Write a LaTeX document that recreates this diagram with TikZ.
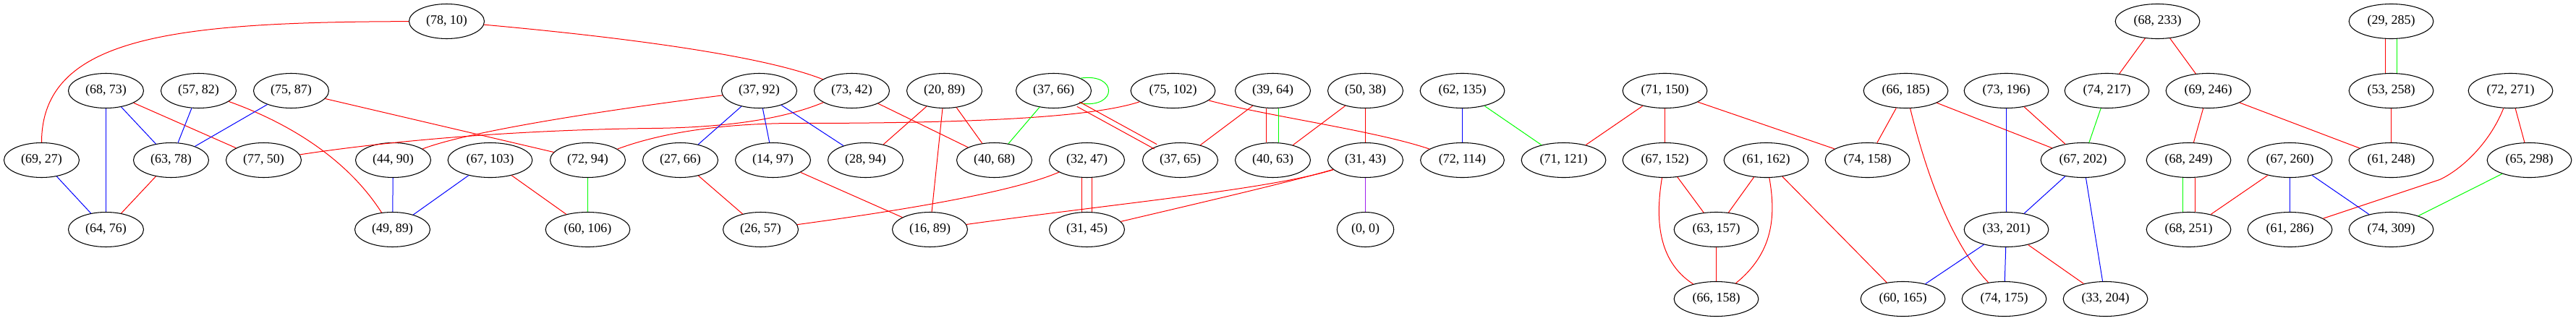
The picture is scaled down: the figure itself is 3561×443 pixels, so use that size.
\documentclass[tikz,border=0pt]{standalone}
\usepackage{fontspec}
\setmainfont{Liberation Serif}
\usetikzlibrary{shapes.geometric}
\definecolor{ered}{RGB}{255,0,0}
\definecolor{eblue}{RGB}{0,0,255}
\definecolor{egreen}{RGB}{0,255,0}
\definecolor{epurple}{RGB}{160,32,240}
\begin{document}
\begin{tikzpicture}[x=0.75pt,y=-0.75pt,
  nd/.style={ellipse,draw=black,line width=0.8pt,inner xsep=6.2pt,inner ysep=0pt,
     minimum height=36pt,minimum width=54pt,font=\fontsize{13.5}{16}\selectfont},
  re/.style={draw=ered,line width=0.75pt},
  bl/.style={draw=eblue,line width=0.75pt},
  gr/.style={draw=egreen,line width=0.75pt},
  pu/.style={draw=epurple,line width=0.75pt},
  sh/.style={transform canvas={xshift=#1}}]
\useasboundingbox[fill=white] (-0.5,-0.5) rectangle (3560.5,442.5);
% row 0
\node[nd] (n7810) at (617,29) {(78, 10)};
\node[nd] (n68233) at (2982,29) {(68, 233)};
\node[nd] (n29285) at (3305,29) {(29, 285)};
% row 1
\node[nd] (n6873) at (146,125) {(68, 73)};
\node[nd] (n5782) at (274,125) {(57, 82)};
\node[nd] (n7587) at (402,125) {(75, 87)};
\node[nd] (n3792) at (1049,125) {(37, 92)};
\node[nd] (n7342) at (1177,125) {(73, 42)};
\node[nd] (n2089) at (1305,125) {(20, 89)};
\node[nd] (n3766) at (1456,125) {(37, 66)};
\node[nd] (n75102) at (1621,125) {(75, 102)};
\node[nd] (n3964) at (1759,125) {(39, 64)};
\node[nd] (n5038) at (1887,125) {(50, 38)};
\node[nd] (n62135) at (2021,125) {(62, 135)};
\node[nd] (n71150) at (2301,125) {(71, 150)};
\node[nd] (n66185) at (2634,125) {(66, 185)};
\node[nd] (n73196) at (2773,125) {(73, 196)};
\node[nd] (n74217) at (2912,125) {(74, 217)};
\node[nd] (n69246) at (3052,125) {(69, 246)};
\node[nd] (n53258) at (3305,125) {(53, 258)};
\node[nd] (n72271) at (3470,125) {(72, 271)};
% row 2
\node[nd] (n6927) at (57,221) {(69, 27)};
\node[nd] (n6378) at (236,221) {(63, 78)};
\node[nd] (n7750) at (364,221) {(77, 50)};
\node[nd] (n4490) at (543,221) {(44, 90)};
\node[nd] (n67103) at (677,221) {(67, 103)};
\node[nd] (n7294) at (812,221) {(72, 94)};
\node[nd] (n2766) at (940,221) {(27, 66)};
\node[nd] (n1497) at (1068,221) {(14, 97)};
\node[nd] (n2894) at (1196,221) {(28, 94)};
\node[nd] (n4068) at (1374,221) {(40, 68)};
\node[nd] (n3247) at (1502,221) {(32, 47)};
\node[nd] (n3765) at (1631,221) {(37, 65)};
\node[nd] (n4063) at (1759,221) {(40, 63)};
\node[nd] (n3143) at (1887,221) {(31, 43)};
\node[nd] (n72114) at (2021,221) {(72, 114)};
\node[nd] (n71121) at (2161,221) {(71, 121)};
\node[nd] (n67152) at (2301,221) {(67, 152)};
\node[nd] (n61162) at (2441,221) {(61, 162)};
\node[nd] (n74158) at (2581,221) {(74, 158)};
\node[nd] (n67202) at (2879,221) {(67, 202)};
\node[nd] (n68249) at (3025,221) {(68, 249)};
\node[nd] (n67260) at (3165,221) {(67, 260)};
\node[nd] (n61248) at (3305,221) {(61, 248)};
\node[nd] (n65298) at (3496,221) {(65, 298)};
% row 3
\node[nd] (n6476) at (146,317) {(64, 76)};
\node[nd] (n4989) at (542,317) {(49, 89)};
\node[nd] (n60106) at (812,317) {(60, 106)};
\node[nd] (n2657) at (1051,317) {(26, 57)};
\node[nd] (n1689) at (1285,317) {(16, 89)};
\node[nd] (n3145) at (1502,317) {(31, 45)};
\node[nd] (n0000) at (1887,317) {(0, 0)};
\node[nd] (n63157) at (2372,317) {(63, 157)};
\node[nd] (n33201) at (2773,317) {(33, 201)};
\node[nd] (n68251) at (3025,317) {(68, 251)};
\node[nd] (n61286) at (3165,317) {(61, 286)};
\node[nd] (n74309) at (3305,317) {(74, 309)};
% row 4
\node[nd] (n66158) at (2372,413) {(66, 158)};
\node[nd] (n60165) at (2630,413) {(60, 165)};
\node[nd] (n74175) at (2770,413) {(74, 175)};
\node[nd] (n33204) at (2910,413) {(33, 204)};
% edges
\draw[re] (n7810) .. controls (240,30) and (57,50) .. (n6927);
\draw[re] (n7810) .. controls (850,50) and (1050,75) .. (n7342);
\draw[bl] (n6873) -- (n6476);
\draw[bl] (n6873) -- (n6378);
\draw[re] (n6873) -- (n7750);
\draw[bl] (n5782) -- (n6378);
\draw[re] (n5782) .. controls (400,170) and (480,220) .. (n4989);
\draw[bl] (n7587) -- (n6378);
\draw[re] (n7587) -- (n7294);
\draw[bl] (n6927) -- (n6476);
\draw[re] (n6378) -- (n6476);
\draw[re] (n7750) .. controls (600,185) and (800,178) .. (900,177) .. controls (1000,176) and (1080,165) .. (n7342);
\draw[re] (n7294) .. controls (900,188) and (980,170) .. (1100,170) .. controls (1300,170) and (1500,165) .. (n75102);
\draw[re] (n3792) .. controls (850,150) and (650,180) .. (n4490);
\draw[bl] (n4490) -- (n4989);
\draw[bl] (n67103) -- (n4989);
\draw[re] (n67103) -- (n60106);
\draw[gr] (n7294) -- (n60106);
\draw[bl] (n3792) -- (n2766);
\draw[bl] (n3792) -- (n1497);
\draw[bl] (n3792) -- (n2894);
\draw[re] (n7342) -- (n4068);
\draw[re] (n2089) -- (n2894);
\draw[re] (n2089) -- (n1689);
\draw[re] (n2089) -- (n4068);
\draw[gr] (n3766) -- (n4068);
\draw[gr] (n3766.25) .. controls (1545,100) and (1545,150) .. (n3766.-25);
\draw[re,transform canvas={shift={(-1.3pt,-2.4pt)}}] (n3766) -- (n3765);
\draw[re,transform canvas={shift={(1.3pt,2.4pt)}}] (n3766) -- (n3765);
\draw[re] (n75102) .. controls (1750,160) and (1900,180) .. (n72114);
\draw[re] (n3964) -- (n3765);
\draw[re,sh=-6.4pt] (n3964) -- (n4063);
\draw[gr,sh=6pt] (n3964) -- (n4063);
\draw[re] (n5038) -- (n4063);
\draw[re] (n5038) -- (n3143);
\draw[re] (n2766) -- (n2657);
\draw[re] (n1497) -- (n1689);
\draw[re] (n3247) .. controls (1400,265) and (1250,290) .. (n2657);
\draw[re,sh=-5.6pt] (n3247) -- (n3145);
\draw[re,sh=5.6pt] (n3247) -- (n3145);
\draw[re] (n3143) .. controls (1750,262) and (1550,280) .. (n1689);
\draw[re] (n3143) .. controls (1780,252) and (1650,282) .. (n3145);
\draw[pu] (n3143) -- (n0000);
\draw[bl] (n62135) -- (n72114);
\draw[gr] (n62135) -- (n71121);
\draw[re] (n71150) -- (n71121);
\draw[re] (n71150) -- (n67152);
\draw[re] (n71150) -- (n74158);
\draw[re] (n67152) -- (n63157);
\draw[re] (n67152) .. controls (2288,300) and (2290,360) .. (n66158);
\draw[re] (n61162) -- (n63157);
\draw[re] (n61162) .. controls (2455,300) and (2450,350) .. (n66158);
\draw[re] (n61162) -- (n60165);
\draw[re] (n63157) -- (n66158);
\draw[re] (n68233) -- (n74217);
\draw[re] (n68233) -- (n69246);
\draw[re,sh=-6pt] (n29285) -- (n53258);
\draw[gr,sh=6pt] (n29285) -- (n53258);
\draw[re] (n66185) -- (n74158);
\draw[re] (n66185) .. controls (2665,250) and (2700,340) .. (n74175);
\draw[re] (n66185) -- (n67202);
\draw[bl] (n73196) -- (n33201);
\draw[re] (n73196) -- (n67202);
\draw[gr] (n74217) -- (n67202);
\draw[re] (n69246) -- (n68249);
\draw[re] (n69246) -- (n61248);
\draw[re] (n53258) -- (n61248);
\draw[re] (n72271) .. controls (3440,200) and (3400,235) .. (3372,248) -- (n61286);
\draw[re] (n72271) -- (n65298);
\draw[bl] (n67202) -- (n33201);
\draw[bl] (n67202) -- (n33204);
\draw[gr,sh=-6pt] (n68249) -- (n68251);
\draw[re,sh=6.4pt] (n68249) -- (n68251);
\draw[re] (n67260) -- (n68251);
\draw[bl] (n67260) -- (n61286);
\draw[bl] (n67260) -- (n74309);
\draw[gr] (n65298) -- (n74309);
\draw[bl] (n33201) -- (n60165);
\draw[bl] (n33201) -- (n74175);
\draw[re] (n33201) -- (n33204);
\end{tikzpicture}
\end{document}
